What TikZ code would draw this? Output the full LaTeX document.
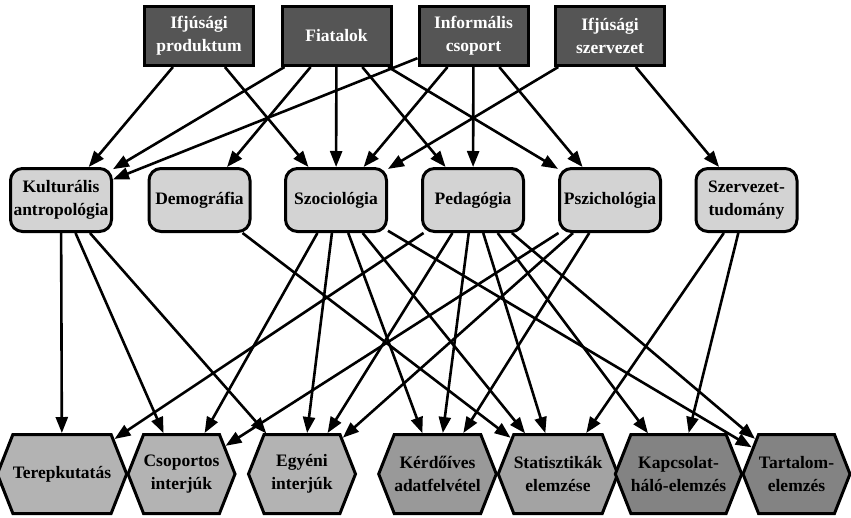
\documentclass[tikz,border=0pt]{standalone}
\usepackage{fontspec}
\setmainfont{Liberation Serif}
\usetikzlibrary{arrows.meta,shapes.symbols}
\definecolor{topgray}{HTML}{555555}
\definecolor{midgray}{HTML}{D3D3D3}
\definecolor{hexA}{HTML}{B3B3B3}
\definecolor{hexB}{HTML}{999999}
\definecolor{hexC}{HTML}{A3A3A3}
\definecolor{hexD}{HTML}{838383}
\begin{document}
\begin{tikzpicture}[x=1pt,y=-1pt,
  every node/.style={font=\bfseries\fontsize{17.5}{23}\selectfont, align=center, inner sep=1pt},
  topbox/.style={draw=black, line width=3pt, fill=topgray, text=white, minimum width=109pt, minimum height=59pt},
  midbox/.style={draw=black, line width=3pt, fill=midgray, rounded corners=12pt, minimum width=101pt, minimum height=63pt},
  hexbox/.style={draw=black, line width=3pt, signal, signal to=east and west, signal pointer angle=137, minimum width=107pt, minimum height=79pt, inner sep=0pt},
  conn/.style={line width=2.6pt, -{Triangle[length=16pt,width=12pt]}},
]
\useasboundingbox (0,0) rectangle (851,517);
% top row
\node[topbox] (ip)  at (199,36)   {Ifjúsági\\produktum};
\node[topbox] (fi)  at (336.5,36) {Fiatalok};
\node[topbox] (ic)  at (473.5,36) {Informális\\csoport};
\node[topbox] (isz) at (610,36)   {Ifjúsági\\szervezet};
% middle row
\node[midbox] (ka)  at (61,200)    {Kulturális\\antropológia};
\node[midbox] (de)  at (199.5,200) {Demográfia};
\node[midbox] (sz)  at (336,200)   {Szociológia};
\node[midbox] (pe)  at (473,200)   {Pedagógia};
\node[midbox] (ps)  at (610,200)   {Pszichológia};
\node[midbox] (szt) at (746.5,200) {Szervezet-\\tudomány};
% bottom row
\node[hexbox, fill=hexA] (te)  at (62,474)    {Terepkutatás};
\node[hexbox, fill=hexA] (cs)  at (181.5,474) {Csoportos\\interjúk};
\node[hexbox, fill=hexA] (eg)  at (302,474)   {Egyéni\\interjúk};
\node[hexbox, fill=hexB] (ke)  at (437.5,474) {Kérdőíves\\adatfelvétel};
\node[hexbox, fill=hexC] (sta) at (558,474)   {Statisztikák\\elemzése};
\node[hexbox, fill=hexD] (kap) at (678.5,474) {Kapcsolat-\\háló-elemzés};
\node[hexbox, fill=hexD] (ta)  at (796.5,474) {Tartalom-\\elemzés};
% top to middle
\draw[conn] (ip) -- (ka);
\draw[conn] (ip) -- (sz);
\draw[conn] (fi) -- (ka);
\draw[conn] (fi) -- (de);
\draw[conn] (fi) -- (sz);
\draw[conn] (fi) -- (pe);
\draw[conn] (fi) -- (ps);
\draw[conn] (ic) -- (ka);
\draw[conn] (ic) -- (sz);
\draw[conn] (ic) -- (pe);
\draw[conn] (ic) -- (ps);
\draw[conn] (isz) -- (sz);
\draw[conn] (isz) -- (szt);
% middle to bottom
\draw[conn] (ka) -- (te);
\draw[conn] (ka) -- (cs);
\draw[conn] (ka) -- (eg);
\draw[conn] (de) -- (sta);
\draw[conn] (sz) -- (cs);
\draw[conn] (sz) -- (eg);
\draw[conn] (sz) -- (ke);
\draw[conn] (sz) -- (sta);
\draw[conn] (sz) -- (ta);
\draw[conn] (pe) -- (te);
\draw[conn] (pe) -- (eg);
\draw[conn] (pe) -- (ke);
\draw[conn] (pe) -- (sta);
\draw[conn] (pe) -- (kap);
\draw[conn] (pe) -- (ta);
\draw[conn] (ps) -- (cs);
\draw[conn] (ps) -- (eg);
\draw[conn] (ps) -- (ke);
\draw[conn] (szt) -- (sta);
\draw[conn] (szt) -- (kap);
\end{tikzpicture}
\end{document}
